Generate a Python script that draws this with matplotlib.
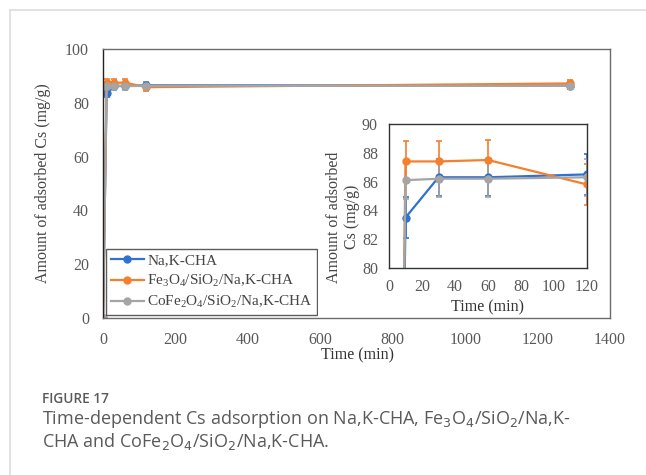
import numpy as np
import matplotlib
matplotlib.use('Agg')
import matplotlib.pyplot as plt
from matplotlib.lines import Line2D

plt.rcParams['font.family'] = 'Liberation Serif'
plt.rcParams['mathtext.fontset'] = 'custom'
plt.rcParams['mathtext.rm'] = 'Liberation Serif'
plt.rcParams['mathtext.it'] = 'Liberation Serif'

# time (min)
time = [0, 10, 30, 60, 120, 1290]

labels = ['Na,K-CHA',
          'Fe$_3$O$_4$/SiO$_2$/Na,K-CHA',
          'CoFe$_2$O$_4$/SiO$_2$/Na,K-CHA']
colors = ['#2F72D0', '#F57F2C', '#A5A5A5']

nak_cha = [0, 83.5, 86.3, 86.3, 86.5, 86.4]
fe3o4 = [0, 87.4, 87.4, 87.5, 85.8, 87.2]
cofe2o4 = [0, 86.1, 86.2, 86.2, 86.3, 86.3]

nak_err = [0, 1.4, 1.3, 1.3, 1.4, 1.3]
fe3o4_err = [0, 1.4, 1.4, 1.4, 1.4, 1.4]
cofe2o4_err = [0, 1.3, 1.3, 1.3, 1.3, 1.3]

series = [nak_cha, fe3o4, cofe2o4]
errors = [nak_err, fe3o4_err, cofe2o4_err]

W, H = 646, 475
fig = plt.figure(figsize=(W / 100, H / 100), dpi=100)


def fx(px):
    return px / W


def fy(py):
    return 1 - py / H


tick_col = '#595959'

# main axes
ax = fig.add_axes([fx(103), fy(318), fx(610) - fx(103), fy(49) - fy(318)])
for vals, err, c in zip(series, errors, colors):
    ax.errorbar(time, vals, yerr=err, color=c, lw=1.6, marker='o', ms=5,
                capsize=2.5, elinewidth=1.2, capthick=1.2)
ax.set_xlim(0, 1400)
ax.set_ylim(0, 100)
ax.set_xticks(np.arange(0, 1401, 200))
ax.set_yticks(np.arange(0, 101, 20))
ax.tick_params(length=0, labelsize=11.5, colors=tick_col, pad=10)
for s in ax.spines.values():
    s.set_color('#6b6b6b')
    s.set_linewidth(1.0)
ax.spines['left'].set_color('#222222')

fig.text(fx(357), fy(355), 'Time (min)', ha='center', va='center',
         fontsize=11.5, color='#333333')
fig.text(fx(43), fy(183), 'Amount of adsorbed Cs (mg/g)', ha='center',
         va='center', rotation=90, fontsize=11.5, color='#444444')

handles = [Line2D([0], [0], color=c, lw=1.6, marker='o', ms=5) for c in colors]
leg = ax.legend(handles, labels, loc='lower left',
                bbox_to_anchor=(fx(106), fy(315)), bbox_transform=fig.transFigure,
                fancybox=False, frameon=True, fontsize=11, handlelength=2.2,
                handletextpad=0.2, borderpad=0.3, labelspacing=0.35,
                borderaxespad=0)
leg.get_frame().set_edgecolor('#333333')
leg.get_frame().set_linewidth(1.0)
for t in leg.get_texts():
    t.set_color('#444444')

# white panel behind inset
bg = fig.add_axes([fx(318), fy(316), fx(608) - fx(318), fy(98) - fy(316)])
bg.set_facecolor('white')
bg.set_xticks([])
bg.set_yticks([])
for s in bg.spines.values():
    s.set_visible(False)

# inset
ins = fig.add_axes([fx(389), fy(268), fx(587) - fx(389), fy(124) - fy(268)])
for vals, err, c in zip(series, errors, colors):
    ins.errorbar(time, vals, yerr=err, color=c, lw=1.6, marker='o', ms=5,
                 capsize=2.5, elinewidth=1.2, capthick=1.2)
ins.set_xlim(0, 120)
ins.set_ylim(80, 90)
ins.set_xticks(np.arange(0, 121, 20))
ins.set_yticks(np.arange(80, 91, 2))
ins.tick_params(length=0, labelsize=11.5, colors=tick_col, pad=8)
for s in ins.spines.values():
    s.set_color('#333333')
    s.set_linewidth(1.0)

fig.text(fx(488), fy(307), 'Time (min)', ha='center', va='center',
         fontsize=11.5, color='#333333')
fig.text(fx(343), fy(217), 'Amount of adsorbed\nCs (mg/g)', ha='center',
         va='center', rotation=90, fontsize=11.5, color='#444444',
         linespacing=1.1)

# page frame and caption
fig.add_artist(Line2D([fx(10), fx(10)], [fy(9.5), 0], color='#dddddd', lw=1.2))
fig.add_artist(Line2D([fx(10), 1], [fy(9.5), fy(9.5)], color='#dddddd', lw=1.2))

cap_col = '#5a5a5a'
fig.text(fx(42), fy(399), 'FIGURE 17', ha='left', va='center', fontsize=9.8,
         fontweight='semibold', color=cap_col, family='Open Sans')
fig.text(fx(42), fy(419),
         'Time-dependent Cs adsorption on Na,K-CHA, Fe$_3$O$_4$/SiO$_2$/Na,K-',
         ha='left', va='center', fontsize=13, color=cap_col, family='Open Sans',
         math_fontfamily='dejavusans')
fig.text(fx(42), fy(442), 'CHA and CoFe$_2$O$_4$/SiO$_2$/Na,K-CHA.',
         ha='left', va='center', fontsize=13, color=cap_col, family='Open Sans',
         math_fontfamily='dejavusans')

fig.savefig('out.png', dpi=100)
